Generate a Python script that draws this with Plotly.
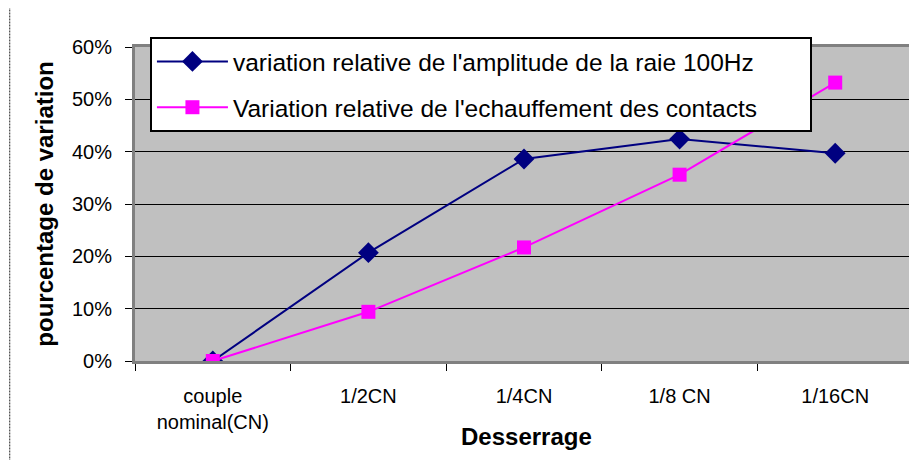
import plotly.graph_objects as go

categories = ["couple<br>nominal(CN)", "1/2CN", "1/4CN", "1/8 CN", "1/16CN"]
amplitude_100hz = [0.0, 0.207, 0.386, 0.424, 0.397]
echauffement = [0.0, 0.094, 0.217, 0.356, 0.532]

FONT = "Liberation Sans, Arial, sans-serif"
PAD = "\u00a0" * 7  # extra room at the right of the legend box

fig = go.Figure()
fig.add_trace(go.Scatter(
    x=categories, y=amplitude_100hz, mode="lines+markers",
    name="variation relative de l'amplitude de la raie 100Hz" + PAD,
    legendgroup="a",
    line=dict(color="#000080", width=2),
    marker=dict(symbol="diamond", size=16, color="#000080"),
))
fig.add_trace(go.Scatter(
    x=categories, y=echauffement, mode="lines+markers",
    name="Variation relative de l'echauffement des contacts" + PAD,
    legendgroup="b",
    line=dict(color="#FF00FF", width=2),
    marker=dict(symbol="square", size=14, color="#FF00FF"),
))

# the page adds an 8px body margin, so the figure is laid out 8px smaller
fig.update_layout(
    width=909, height=452,
    margin=dict(l=127, r=1, t=39, b=99),
    paper_bgcolor="white",
    plot_bgcolor="#C0C0C0",
    font=dict(family=FONT, size=20, color="black"),
    showlegend=True,
    legend=dict(
        x=0.0192, y=1.032, xanchor="left", yanchor="top",
        bgcolor="white", bordercolor="black", borderwidth=2,
        font=dict(family=FONT, size=24.5, color="black"),
        itemwidth=71, tracegroupgap=11,
    ),
    shapes=[dict(type="line", xref="paper", yref="paper",
                 x0=-0.161, x1=-0.161, y0=-0.32, y1=1.124,
                 line=dict(color="#222222", width=1, dash="2px,1px"))],
    annotations=[dict(text="<b>Desserrage</b>", xref="paper", yref="paper",
                      x=0.503, y=-0.242, xanchor="center", yanchor="middle",
                      showarrow=False, font=dict(size=24))],
)

fig.update_xaxes(
    type="category", range=[-0.5, 4.5], showgrid=False, tickson="boundaries",
    ticks="outside", ticklen=7, tickcolor="black", ticklabelstandoff=15,
    showline=True, linecolor="#808080", linewidth=3, mirror=True,
)
fig.update_yaxes(
    range=[0, 0.6], dtick=0.1, tickformat=".0%",
    showgrid=True, gridcolor="black", gridwidth=1,
    zeroline=True, zerolinecolor="black", zerolinewidth=1,
    ticks="outside", ticklen=7, tickcolor="black", ticklabelstandoff=9,
    showline=True, linecolor="#808080", linewidth=3, mirror=True,
    title=dict(text="<b>pourcentage de variation</b>", font=dict(size=24), standoff=12),
)

fig.write_html("out.html")
